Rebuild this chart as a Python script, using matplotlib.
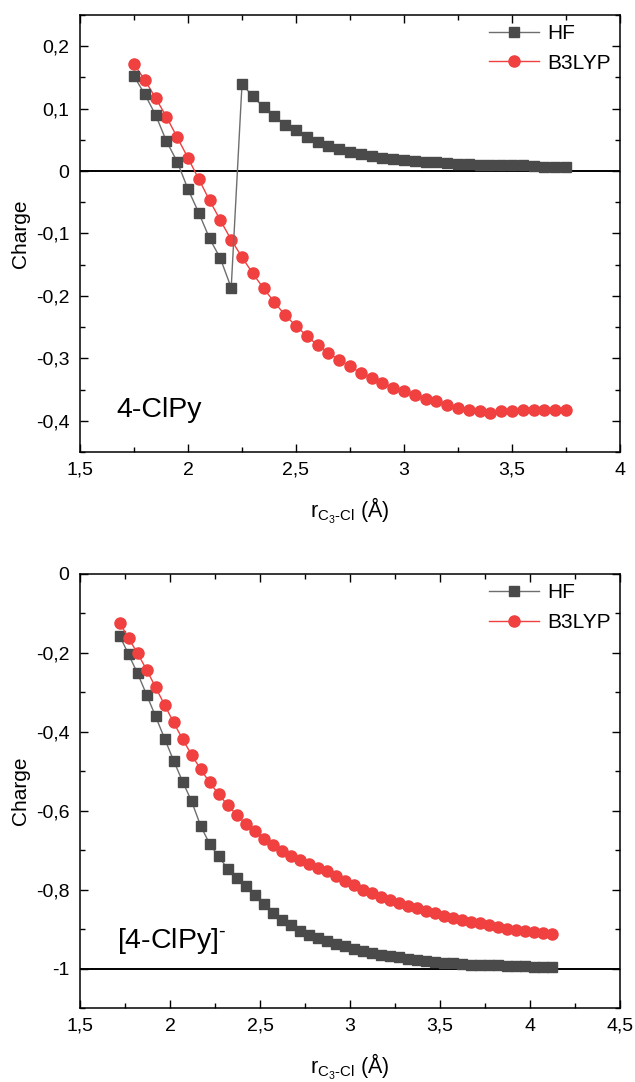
import numpy as np
import matplotlib
matplotlib.use('Agg')
import matplotlib.pyplot as plt
from matplotlib.ticker import MultipleLocator, FuncFormatter

plt.rcParams['font.family'] = ['Liberation Sans', 'DejaVu Sans']
plt.rcParams['mathtext.fontset'] = 'custom'
plt.rcParams['mathtext.rm'] = 'Liberation Sans'
plt.rcParams['mathtext.it'] = 'Liberation Sans:italic'
plt.rcParams['mathtext.default'] = 'regular'

# ---- data: neutral 4-ClPy (top) ----
hf_top_x1 = np.round(np.arange(1.75, 2.201, 0.05), 2)
hf_top_y1 = [0.152, 0.123, 0.090, 0.048, 0.015, -0.029, -0.067, -0.108, -0.140, -0.187]
hf_top_x2 = np.round(np.arange(2.25, 3.751, 0.05), 2)
hf_top_y2 = [0.139, 0.120, 0.102, 0.088, 0.074, 0.065, 0.055, 0.047, 0.040, 0.035,
             0.031, 0.027, 0.024, 0.021, 0.019, 0.018, 0.016, 0.015, 0.014, 0.013,
             0.012, 0.012, 0.010, 0.010, 0.009, 0.009, 0.009, 0.008, 0.007, 0.007, 0.007]
b3_top_x = np.round(np.arange(1.75, 3.751, 0.05), 2)
b3_top_y = [0.171, 0.146, 0.117, 0.087, 0.054, 0.021,
            -0.013, -0.047, -0.079, -0.110, -0.138, -0.164, -0.188, -0.210, -0.231, -0.248,
            -0.264, -0.279, -0.291, -0.303, -0.313, -0.323, -0.332, -0.339, -0.347, -0.353,
            -0.359, -0.365, -0.369, -0.374, -0.379, -0.382, -0.385, -0.387, -0.385, -0.384,
            -0.383, -0.383, -0.383, -0.383, -0.382]

# ---- data: anion [4-ClPy]- (bottom) ----
bot_x = np.round(np.arange(1.72, 4.121, 0.05), 2)
hf_bot_y = [-0.156, -0.204, -0.252, -0.306, -0.361, -0.417, -0.473, -0.526, -0.576,
            -0.638, -0.684, -0.716, -0.747, -0.770, -0.792, -0.814, -0.837, -0.858, -0.876,
            -0.889, -0.904, -0.914, -0.922, -0.929, -0.937, -0.944, -0.950, -0.955, -0.960,
            -0.965, -0.969, -0.972, -0.976, -0.978, -0.981, -0.983, -0.985, -0.987, -0.988,
            -0.990, -0.991, -0.991, -0.992, -0.993, -0.994, -0.994, -0.995, -0.995, -0.995]
b3_bot_y = [-0.123, -0.163, -0.201, -0.243, -0.287, -0.332, -0.376, -0.419, -0.458,
            -0.495, -0.528, -0.558, -0.586, -0.610, -0.633, -0.652, -0.672, -0.687, -0.701,
            -0.715, -0.726, -0.735, -0.744, -0.754, -0.766, -0.778, -0.789, -0.800, -0.809,
            -0.818, -0.826, -0.834, -0.841, -0.847, -0.854, -0.860, -0.866, -0.872, -0.876,
            -0.881, -0.885, -0.889, -0.895, -0.899, -0.902, -0.906, -0.907, -0.909, -0.912]

HF_LINE = '#6e6e6e'
HF_MARK = '#4a4a4a'
RED = '#f04040'


def comma(v, pos):
    s = '%g' % round(v, 4)
    if s == '-0':
        s = '0'
    return s.replace('.', ',')


def style_axes(ax, ymajor):
    ax.xaxis.set_major_locator(MultipleLocator(0.5))
    ax.xaxis.set_minor_locator(MultipleLocator(0.25))
    ax.yaxis.set_major_locator(MultipleLocator(ymajor))
    ax.yaxis.set_minor_locator(MultipleLocator(ymajor / 2))
    ax.xaxis.set_major_formatter(FuncFormatter(comma))
    ax.yaxis.set_major_formatter(FuncFormatter(comma))
    ax.tick_params(which='both', direction='in', top=True, right=True, labelsize=14, width=1.0)
    ax.tick_params(which='major', length=6)
    ax.tick_params(which='minor', length=3.5)
    ax.tick_params(axis='x', pad=7)
    ax.tick_params(axis='y', pad=7.5)
    for sp in ax.spines.values():
        sp.set_linewidth(1.1)
    ax.set_ylabel('Charge', fontsize=15, labelpad=4)
    ax.set_xlabel(r'r$_{C_3\text{-}Cl}$ (Å)', fontsize=15.5, labelpad=12)
    ax.legend(loc='upper right', bbox_to_anchor=(1.0, 1.0), frameon=False, fontsize=15,
              handlelength=2.4, labelspacing=0.5, borderaxespad=0.0, borderpad=0.45,
              handletextpad=0.4)


fig = plt.figure(figsize=(6.35, 10.82), dpi=100)

ax1 = fig.add_axes([80 / 635, (1082 - 452) / 1082, 540 / 635, 437 / 1082])
ax1.axhline(0, color='black', lw=1.4, zorder=1)
ax1.plot(np.concatenate([hf_top_x1, hf_top_x2]), hf_top_y1 + hf_top_y2, color=HF_LINE, lw=1,
         marker='s', ms=6.5, mfc=HF_MARK, mec=HF_MARK, label='HF', zorder=3)
ax1.plot(b3_top_x, b3_top_y, color=RED, lw=1, marker='o', ms=8, mfc=RED, mec=RED,
         label='B3LYP', zorder=2)
ax1.set_xlim(1.5, 4)
ax1.set_ylim(-0.45, 0.25)
ax1.text(0.068, 0.095, '4-ClPy', transform=ax1.transAxes, fontsize=20.5, va='center')
style_axes(ax1, 0.1)

ax2 = fig.add_axes([80 / 635, (1082 - 1008) / 1082, 540 / 635, 434 / 1082])
ax2.axhline(-1, color='black', lw=1.4, zorder=1)
ax2.plot(bot_x, hf_bot_y, color=HF_LINE, lw=1, marker='s', ms=6.5, mfc=HF_MARK, mec=HF_MARK,
         label='HF', zorder=2)
ax2.plot(bot_x, b3_bot_y, color=RED, lw=1, marker='o', ms=8, mfc=RED, mec=RED,
         label='B3LYP', zorder=3)
ax2.set_xlim(1.5, 4.5)
ax2.set_ylim(-1.1, 0)
ax2.text(0.068, 0.155, r'[4-ClPy]$^{\text{-}}$', transform=ax2.transAxes, fontsize=20.5, va='center')
style_axes(ax2, 0.2)

fig.savefig('out.png', dpi=100)
